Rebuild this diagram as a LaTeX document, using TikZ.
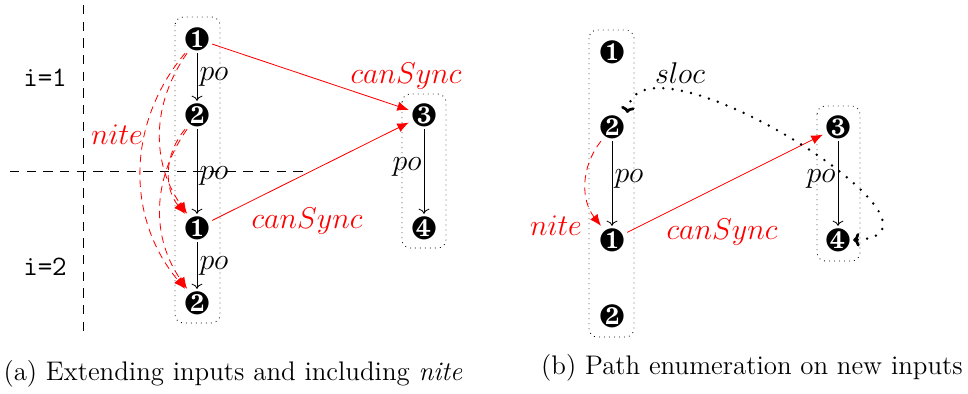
\documentclass[tikz,border=0pt]{standalone}
\usepackage{pifont}
\usetikzlibrary{arrows.meta}
\begin{document}
\begin{tikzpicture}[x=0.48pt,y=-0.48pt,
  ev/.style={inner sep=1pt, font=\fontsize{15.5}{17}\selectfont},
  lbl/.style={font=\fontsize{14}{16}\selectfont},
  grp/.style={draw, dotted, rounded corners=4pt},
  poarrow/.style={->, black},
  sync/.style={red, -{Latex[length=5.5pt,width=4.5pt]}},
  niteedge/.style={red, dash pattern=on 3.5pt off 2.5pt, -{Latex[length=5.5pt,width=4.5pt]}},
  slocedge/.style={black, line width=1.3pt, dash pattern=on 0pt off 4.5pt, line cap=round, {To[length=3pt,width=6.5pt]}-{To[length=3pt,width=6.5pt]}},
  sep/.style={black, dash pattern=on 4.5pt off 3.5pt},
  ttlbl/.style={font=\fontsize{13.5}{15}\ttfamily},
  captext/.style={font=\fontsize{12.9}{15}\selectfont}]
\useasboundingbox (0,0) rectangle (968,394);

% ---------- (a) ----------
\draw[sep] (83,5) -- (83,332);
\draw[sep] (10,171) -- (307,171);
\node[ttlbl] (i1) at (45,78) {i=1};
\node[ttlbl] (i2) at (45,267) {i=2};

\draw[grp] (175,17) rectangle (220,323);
\draw[grp] (402,94) rectangle (446,248);

\node[ev] (A1) at (197,39) {\ding{182}};
\node[ev] (A2) at (197,115) {\ding{183}};
\node[ev] (A3) at (197,228) {\ding{182}};
\node[ev] (A4) at (197,303) {\ding{183}};
\node[ev] (B3) at (424,115) {\ding{184}};
\node[ev] (B4) at (424,228) {\ding{185}};

\draw[poarrow] (A1) -- node[lbl, right, inner sep=1pt] {$po$} (A2);
\draw[poarrow] (A2) -- node[lbl, right, inner sep=1pt, pos=0.55] {$po$} (A3);
\draw[poarrow] (A3) -- node[lbl, right, inner sep=1pt] {$po$} (A4);
\draw[poarrow] (B3) -- node[lbl, left, inner sep=1pt, pos=0.45] {$po$} (B4);

\draw[sync] (A1) -- (B3);
\draw[sync] (A3) -- (B3);
\node[lbl, red] (cs1) at (406,76) {$canSync$};
\node[lbl, red] (cs2) at (307,221) {$canSync$};

\draw[niteedge] (A1) to[bend right=35] (A3);
\draw[niteedge] (A1) to[bend right=40] (A4);
\draw[niteedge] (A2) to[bend right=40] (A3);
\draw[niteedge] (A2) to[bend right=35] (A4);
\node[lbl, red] (n1) at (117,135) {$nite$};

\node[captext] (capa) at (233,374) {(a) Extending inputs and including \textit{nite}};

% ---------- (b) ----------
\draw[grp] (589,30) rectangle (634,337);
\draw[grp] (817,106) rectangle (860,261);

\node[ev] (C1) at (612,52) {\ding{182}};
\node[ev] (C2) at (612,127) {\ding{183}};
\node[ev] (C3) at (612,240) {\ding{182}};
\node[ev] (C4) at (612,316) {\ding{183}};
\node[ev] (D3) at (838,127) {\ding{184}};
\node[ev] (D4) at (838,240) {\ding{185}};

\draw[poarrow] (C2) -- node[lbl, right, inner sep=1pt, pos=0.45] {$po$} (C3);
\draw[poarrow] (D3) -- node[lbl, left, inner sep=1pt, pos=0.45] {$po$} (D4);

\draw[sync] (C3) -- (D3);
\node[lbl, red] (cs3) at (722,232) {$canSync$};

\draw[niteedge] (C2) to[bend right=38] (C3);
\node[lbl, red] (n2) at (556,226) {$nite$};

\draw[slocedge] (C2.north east) .. controls (640,20) and (980,235) .. (D4.east);
\node[lbl] (sl) at (680,73) {$sloc$};

\node[captext] (capb) at (752,368) {(b) Path enumeration on new inputs};
\end{tikzpicture}
\end{document}
